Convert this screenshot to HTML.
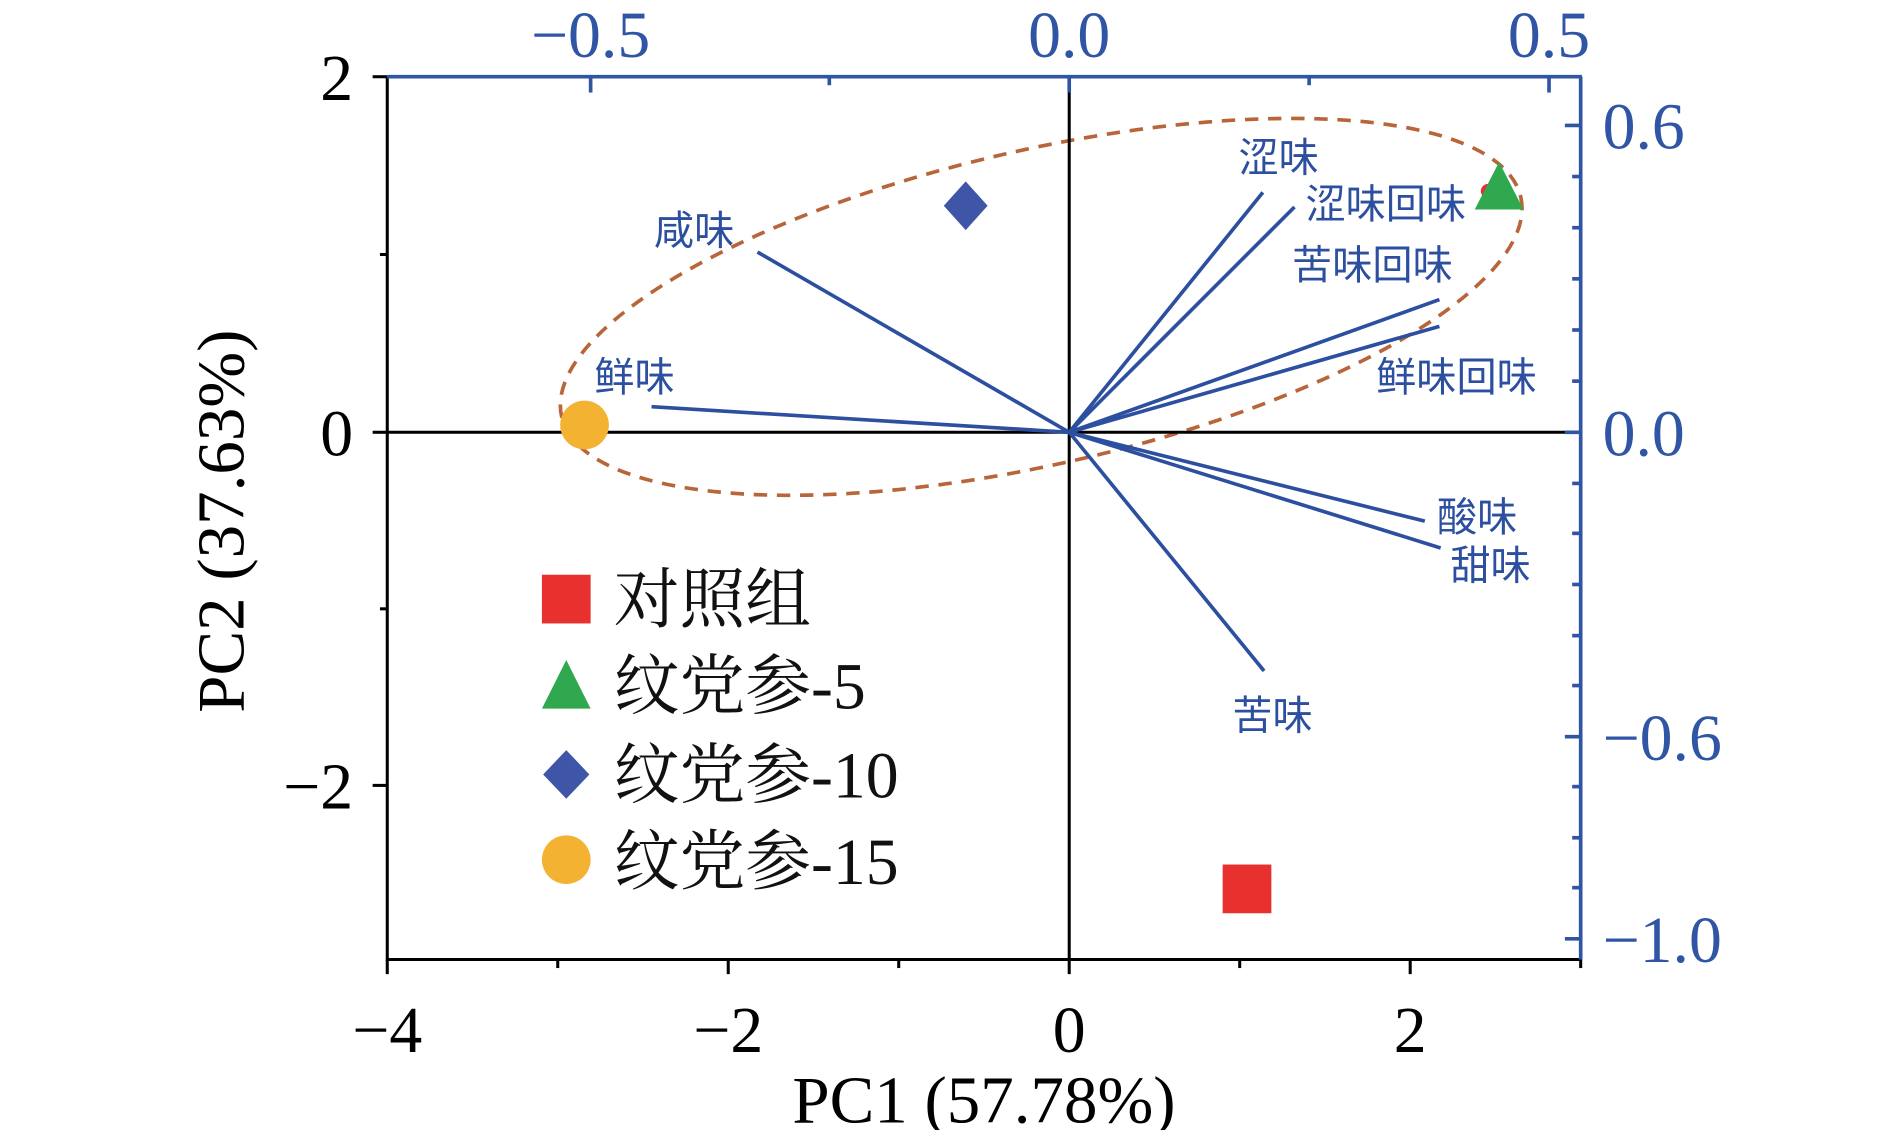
<!DOCTYPE html>
<html><head><meta charset="utf-8"><style>
html,body{margin:0;padding:0;background:#fff;}
svg{display:block;}
.t{font-family:"Liberation Serif","Noto Serif CJK SC",serif;}
.c{font-family:"Liberation Sans","Noto Sans CJK SC",sans-serif;}
</style></head><body>
<svg width="1890" height="1130" viewBox="0 0 1552 928" preserveAspectRatio="none" xmlns="http://www.w3.org/2000/svg">
<rect width="1552" height="928" fill="#fff"/>
<ellipse cx="855" cy="252" rx="404" ry="129" transform="rotate(-12.9 855 252)" fill="none" stroke="#b8653a" stroke-width="3" stroke-dasharray="11,8"/>
<line x1="318" y1="355" x2="1298" y2="355" stroke="#000" stroke-width="2.5"/>
<line x1="878" y1="63" x2="878" y2="788" stroke="#000" stroke-width="2.5"/>
<g stroke="#2c4fa0" stroke-width="3">
<line x1="878" y1="355" x2="622" y2="207"/>
<line x1="878" y1="355" x2="535" y2="334"/>
<line x1="878" y1="355" x2="1037" y2="158"/>
<line x1="878" y1="355" x2="1063" y2="170"/>
<line x1="878" y1="355" x2="1182" y2="246"/>
<line x1="878" y1="355" x2="1182" y2="268"/>
<line x1="878" y1="355" x2="1170" y2="428"/>
<line x1="878" y1="355" x2="1183" y2="450"/>
<line x1="878" y1="355" x2="1038" y2="551"/>
</g>
<g stroke="#000" stroke-width="2.5" fill="none">
<line x1="318" y1="63" x2="318" y2="789"/>
<line x1="317" y1="788" x2="1298" y2="788"/>
<line x1="306" y1="63" x2="318" y2="63"/>
<line x1="306" y1="355" x2="318" y2="355"/>
<line x1="306" y1="645" x2="318" y2="645"/>
<line x1="312" y1="209" x2="318" y2="209"/>
<line x1="312" y1="500" x2="318" y2="500"/>
<line x1="318" y1="788" x2="318" y2="800"/>
<line x1="598" y1="788" x2="598" y2="800"/>
<line x1="878" y1="788" x2="878" y2="800"/>
<line x1="1158" y1="788" x2="1158" y2="800"/>
<line x1="458" y1="788" x2="458" y2="795"/>
<line x1="738" y1="788" x2="738" y2="795"/>
<line x1="1018" y1="788" x2="1018" y2="795"/>
<line x1="1298" y1="788" x2="1298" y2="795"/>
</g>
<g stroke="#2f55a4" stroke-width="3" fill="none">
<line x1="318" y1="63" x2="1299" y2="63"/>
<line x1="1298" y1="63" x2="1298" y2="788"/>
<line x1="485" y1="63" x2="485" y2="76"/>
<line x1="878" y1="63" x2="878" y2="76"/>
<line x1="1272" y1="63" x2="1272" y2="76"/>
<line x1="681" y1="63" x2="681" y2="70"/>
<line x1="1075" y1="63" x2="1075" y2="70"/>
<line x1="1285" y1="103" x2="1298" y2="103"/>
<line x1="1285" y1="355" x2="1298" y2="355"/>
<line x1="1285" y1="605" x2="1298" y2="605"/>
<line x1="1285" y1="771" x2="1298" y2="771"/>
<line x1="1291" y1="145" x2="1298" y2="145"/>
<line x1="1291" y1="187" x2="1298" y2="187"/>
<line x1="1291" y1="229" x2="1298" y2="229"/>
<line x1="1291" y1="271" x2="1298" y2="271"/>
<line x1="1291" y1="313" x2="1298" y2="313"/>
<line x1="1291" y1="397" x2="1298" y2="397"/>
<line x1="1291" y1="438" x2="1298" y2="438"/>
<line x1="1291" y1="480" x2="1298" y2="480"/>
<line x1="1291" y1="522" x2="1298" y2="522"/>
<line x1="1291" y1="563" x2="1298" y2="563"/>
<line x1="1291" y1="646" x2="1298" y2="646"/>
<line x1="1291" y1="688" x2="1298" y2="688"/>
<line x1="1291" y1="729" x2="1298" y2="729"/>
</g>
<g class="t" font-size="54" fill="#000" text-anchor="end">
<text x="290" y="82">2</text>
<text x="290" y="374">0</text>
<text x="290" y="664">−2</text>
</g>
<g class="t" font-size="54" fill="#000" text-anchor="middle">
<text x="318" y="864">−4</text>
<text x="598" y="864">−2</text>
<text x="878" y="864">0</text>
<text x="1158" y="864">2</text>
</g>
<g class="t" font-size="54" fill="#2f55a4" text-anchor="middle">
<text x="485" y="47">−0.5</text>
<text x="878" y="47">0.0</text>
<text x="1272" y="47">0.5</text>
</g>
<g class="t" font-size="54" fill="#2f55a4" text-anchor="start">
<text x="1316" y="122">0.6</text>
<text x="1316" y="374">0.0</text>
<text x="1316" y="624">−0.6</text>
<text x="1316" y="790">−1.0</text>
</g>
<text class="t" x="808" y="922" font-size="55" text-anchor="middle">PC1 (57.78%)</text>
<text class="t" font-size="55" text-anchor="middle" transform="translate(200 428) rotate(-90)">PC2 (37.63%)</text>
<g class="c" font-size="33" fill="#2c4fa0">
<text x="537" y="201">咸味</text>
<text x="488" y="321">鲜味</text>
<text x="1017" y="141">涩味</text>
<text x="1072" y="179">涩味回味</text>
<text x="1061" y="229">苦味回味</text>
<text x="1130" y="321">鲜味回味</text>
<text x="1180" y="436">酸味</text>
<text x="1191" y="476">甜味</text>
<text x="1012" y="599">苦味</text>
</g>
<rect x="1004" y="710" width="40" height="40" fill="#e8302e"/>
<circle cx="1222" cy="157" r="6" fill="#e8302e"/>
<polygon points="1231,133 1251,172 1211,172" fill="#2fa84f"/>
<polygon points="793,149 811,169 793,189 775,169" fill="#3f56a8"/>
<circle cx="480" cy="349" r="20" fill="#f4b233"/>
<rect x="445" y="472" width="40" height="40" fill="#e8302e"/>
<polygon points="465,542 485,582 445,582" fill="#2fa84f"/>
<polygon points="465,616 484,636 465,656 446,636" fill="#3f56a8"/>
<circle cx="465" cy="706" r="20" fill="#f4b233"/>
<g font-family="Liberation Serif, Noto Serif CJK SC, serif" font-size="54" fill="#111">
<text x="504" y="511">对照组</text>
<text x="504" y="582">纹党参-5</text>
<text x="504" y="655">纹党参-10</text>
<text x="504" y="726">纹党参-15</text>
</g>
</svg>
</body></html>
